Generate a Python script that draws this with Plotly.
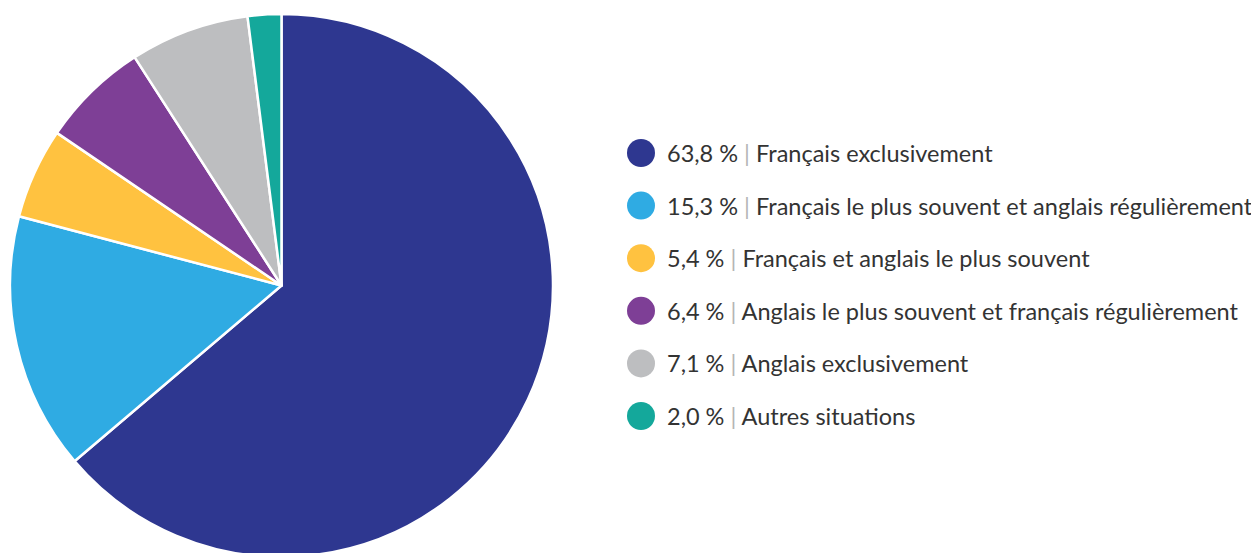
import plotly.graph_objects as go

categories = [
    "Français exclusivement",
    "Français le plus souvent et anglais régulièrement",
    "Français et anglais le plus souvent",
    "Anglais le plus souvent et français régulièrement",
    "Anglais exclusivement",
    "Autres situations",
]
values = [63.8, 15.3, 5.4, 6.4, 7.1, 2.0]
colors = ["#2E3790", "#2FABE3", "#FFC240", "#7E3F96", "#BDBEC0", "#14A89B"]

W, H = 1259, 553
FONT = "Lato"
OFF = 8          # page body margin offset
MT, MB = 6, 4
PH = H - MT - MB


def px_x(page_x):
    return (page_x - OFF) / W


def px_y(page_y):
    return 1 - (page_y - OFF - MT) / PH


fig = go.Figure()
fig.add_trace(go.Pie(
    labels=categories,
    values=values,
    sort=False,
    direction="clockwise",
    rotation=0,
    marker=dict(colors=colors, line=dict(color="white", width=2.5)),
    textinfo="none",
    hoverinfo="label+percent",
    showlegend=False,
    domain=dict(x=[px_x(10), px_x(553)], y=[0, 1]),
))

# custom legend
legend_y0 = 153
legend_dy = 52.6
circle_x = 641
circle_r = 14
text_x = 665
shapes = []
annotations = []
for i, (cat, val, col) in enumerate(zip(categories, values, colors)):
    yc = legend_y0 + i * legend_dy
    shapes.append(dict(
        type="circle", xref="paper", yref="paper",
        x0=px_x(circle_x - circle_r), x1=px_x(circle_x + circle_r),
        y0=px_y(yc + circle_r), y1=px_y(yc - circle_r),
        fillcolor=col, line=dict(width=0),
    ))
    pct = f"{val:.1f}".replace(".", ",")
    annotations.append(dict(
        xref="paper", yref="paper",
        x=px_x(text_x), y=px_y(yc),
        xanchor="left", yanchor="middle", showarrow=False,
        text=f"{pct} % <span style='color:#B5B5B5'>|</span> {cat}",
        font=dict(family=FONT, size=23.5, color="#333333"),
    ))

fig.update_layout(
    width=W, height=H,
    margin=dict(l=0, r=0, t=MT, b=MB),
    paper_bgcolor="white",
    plot_bgcolor="white",
    shapes=shapes,
    annotations=annotations,
    font=dict(family=FONT),
)

fig.write_html("out.html")
